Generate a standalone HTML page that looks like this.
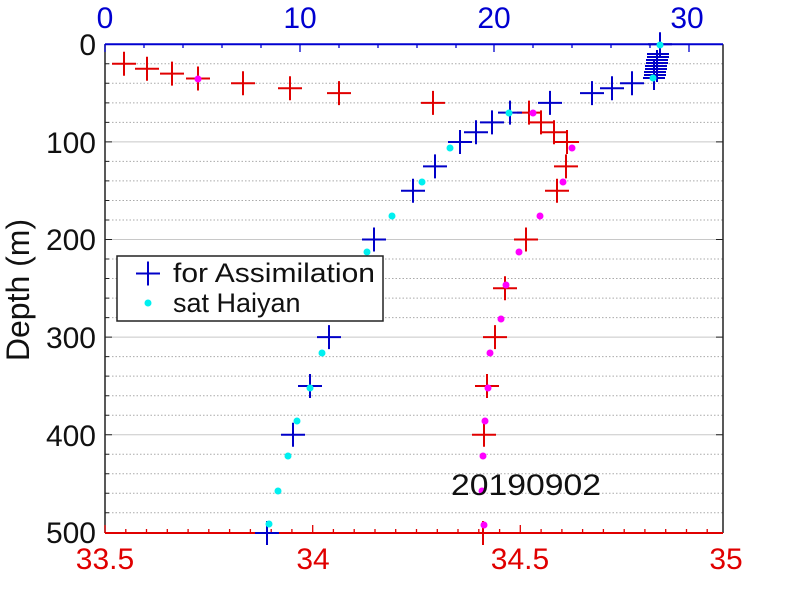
<!DOCTYPE html>
<html><head><meta charset="utf-8"><style>body{margin:0;background:#fff}svg{display:block}</style></head><body>
<svg width="800" height="600" xmlns="http://www.w3.org/2000/svg" font-family="Liberation Sans, Arial, sans-serif">
<rect width="800" height="600" fill="#fff"/>
<g stroke="#c8c8c8" stroke-width="1">
<line x1="105" x2="723" y1="141.9" y2="141.9"/><line x1="105" x2="723" y1="239.5" y2="239.5"/><line x1="105" x2="723" y1="337.1" y2="337.1"/><line x1="105" x2="723" y1="434.7" y2="434.7"/>
</g>
<g stroke="#aaa" stroke-width="1" stroke-dasharray="1.5,2">
<line x1="105" x2="723" y1="63.8" y2="63.8"/><line x1="105" x2="723" y1="83.3" y2="83.3"/><line x1="105" x2="723" y1="102.9" y2="102.9"/><line x1="105" x2="723" y1="122.4" y2="122.4"/>
<line x1="105" x2="723" y1="161.4" y2="161.4"/><line x1="105" x2="723" y1="180.9" y2="180.9"/><line x1="105" x2="723" y1="200.5" y2="200.5"/><line x1="105" x2="723" y1="220.0" y2="220.0"/>
<line x1="105" x2="723" y1="259.0" y2="259.0"/><line x1="105" x2="723" y1="278.5" y2="278.5"/><line x1="105" x2="723" y1="298.1" y2="298.1"/><line x1="105" x2="723" y1="317.6" y2="317.6"/>
<line x1="105" x2="723" y1="356.6" y2="356.6"/><line x1="105" x2="723" y1="376.1" y2="376.1"/><line x1="105" x2="723" y1="395.7" y2="395.7"/><line x1="105" x2="723" y1="415.2" y2="415.2"/>
<line x1="105" x2="723" y1="454.2" y2="454.2"/><line x1="105" x2="723" y1="473.7" y2="473.7"/><line x1="105" x2="723" y1="493.3" y2="493.3"/><line x1="105" x2="723" y1="512.8" y2="512.8"/>
</g>
<g stroke="#222" stroke-width="1">
<path d="M105,63.8h4M105,83.3h4M105,102.9h4M105,122.4h4M105,141.9h7M105,161.4h4M105,180.9h4M105,200.5h4M105,220h4M105,239.5h7M105,259h4M105,278.5h4M105,298.1h4M105,317.6h4M105,337.1h7M105,356.6h4M105,376.1h4M105,395.7h4M105,415.2h4M105,434.7h7M105,454.2h4M105,473.7h4M105,493.3h4M105,512.8h4"/>
<path d="M723,141.9h-7M723,239.5h-7M723,337.1h-7M723,434.7h-7"/>
</g>
<line x1="105" y1="44.3" x2="105" y2="533" stroke="#222" stroke-width="1.5"/>
<line x1="723" y1="44.3" x2="723" y2="533" stroke="#222" stroke-width="1.5"/>
<line x1="105" y1="44.3" x2="723" y2="44.3" stroke="#0000d0" stroke-width="2"/>
<g stroke="#0000d0" stroke-width="1.3">
<path d="M105,44v8M300,44v8M494,44v8M689,44v8"/>
<path d="M144,44v4M183,44v4M222,44v4M261,44v4M339,44v4M378,44v4M417,44v4M456,44v4M533,44v4M572,44v4M611,44v4M650,44v4"/>
</g>
<g fill="#0000d0" font-size="30" text-anchor="middle">
<text x="105" y="28">0</text><text x="300" y="28">10</text><text x="494" y="28">20</text><text x="687" y="28">30</text>
</g>
<line x1="105" y1="533" x2="723" y2="533" stroke="#e00000" stroke-width="2"/>
<g stroke="#e00000" stroke-width="1.3">
<path d="M105,533v-8M312.7,533v-8M520.3,533v-8"/>
<path d="M125.8,533v-4M146.5,533v-4M167.3,533v-4M188.1,533v-4M208.8,533v-4M229.6,533v-4M250.4,533v-4M271.2,533v-4M291.9,533v-4M333.4,533v-4M354.2,533v-4M375,533v-4M395.7,533v-4M416.5,533v-4M437.3,533v-4M458,533v-4M478.8,533v-4M499.6,533v-4M541.1,533v-4M561.9,533v-4M582.6,533v-4M603.4,533v-4M624.2,533v-4M644.9,533v-4M665.7,533v-4M686.5,533v-4M707.2,533v-4"/>
</g>
<g fill="#e00000" font-size="30" text-anchor="middle">
<text x="105" y="569">33.5</text><text x="313" y="569">34</text><text x="520" y="569">34.5</text><text x="726" y="569">35</text>
</g>
<g fill="#111" font-size="30" text-anchor="end">
<text x="96" y="55">0</text><text x="96" y="153">100</text><text x="96" y="250">200</text><text x="96" y="348">300</text><text x="96" y="446">400</text><text x="96" y="543">500</text>
</g>
<text transform="translate(29,290) rotate(-90)" font-size="32" fill="#111" text-anchor="middle">Depth (m)</text>
<g stroke="#e00000" stroke-width="2">
<path d="M112,63.8h24M124,51.8v24 M135,68.7h24M147,56.7v24 M160,73.6h24M172,61.6v24 M186,78.5h24M198,66.5v24 M231,83.3h24M243,71.3v24 M278,88.2h24M290,76.2v24 M327,93.1h24M339,81.1v24 M421,102.9h24M433,90.9v24 M517,112.6h24M529,100.6v24 M529,122.4h24M541,110.4v24 M542,132.2h24M554,120.2v24 M555,142h24M567,130v24 M554,166.4h24M566,154.4v24 M545,190.8h24M557,178.8v24 M514,239.5h24M526,227.5v24 M493,288.3h24M505,276.3v24 M483,337.1h24M495,325.1v24 M475,386h24M487,374v24 M472,434.7h24M484,422.7v24 M471,533h24M483,521v24"/>
</g>
<g fill="#ff00ff">
<circle cx="198" cy="79" r="3.5"/><circle cx="533" cy="113" r="3.5"/><circle cx="572" cy="148" r="3.5"/><circle cx="563" cy="182" r="3.5"/><circle cx="540" cy="216" r="3.5"/><circle cx="519" cy="252" r="3.5"/><circle cx="506" cy="285" r="3.5"/><circle cx="501" cy="319" r="3.5"/><circle cx="490" cy="353" r="3.5"/><circle cx="488" cy="388" r="3.5"/><circle cx="485" cy="421" r="3.5"/><circle cx="483" cy="456" r="3.5"/><circle cx="482" cy="491" r="3.5"/><circle cx="484" cy="525" r="3.5"/>
</g>
<g stroke="#0000c8" stroke-width="2">
<path d="M648,44.3h24M660,32.3v24 M647,54h22 M647,57h22 M646,60h22 M646,63h22 M645,66h22 M645,69h22 M644,72h22 M644,75h22 M643,78h22M657,50v32M654,60v30"/>
<path d="M620,83.3h24M632,71.3v24 M600,88.2h24M612,76.2v24 M580,93.1h24M592,81.1v24 M538,102.9h24M550,90.9v24 M498,112.6h24M510,100.6v24 M480,122.4h24M492,110.4v24 M464,132.2h24M476,120.2v24 M448,142h24M460,130v24 M423,166.4h24M435,154.4v24 M401,190.8h24M413,178.8v24 M362,239.5h24M374,227.5v24 M317,337.1h24M329,325.1v24 M298,386h24M310,374v24 M281,434.7h24M293,422.7v24 M255,533h24M267,521v24"/>
</g>
<g fill="#00f0f0">
<circle cx="660" cy="45" r="3.5"/><circle cx="653" cy="78" r="3.5"/><circle cx="509" cy="113" r="3.5"/><circle cx="450" cy="148" r="3.5"/><circle cx="422" cy="182" r="3.5"/><circle cx="392" cy="216" r="3.5"/><circle cx="367" cy="252" r="3.5"/><circle cx="322" cy="353" r="3.5"/><circle cx="310" cy="388" r="3.5"/><circle cx="297" cy="421" r="3.5"/><circle cx="288" cy="456" r="3.5"/><circle cx="278" cy="491" r="3.5"/><circle cx="269" cy="524" r="3.5"/>
</g>
<rect x="117" y="256" width="266" height="65" fill="#fff" stroke="#222" stroke-width="1.5"/>
<path d="M136,273.5h24M148,261.5v24" stroke="#0000c8" stroke-width="2"/>
<circle cx="148" cy="303" r="3.5" fill="#00f0f0"/>
<g font-size="27" fill="#111">
<text x="173" y="282" textLength="202" lengthAdjust="spacingAndGlyphs">for Assimilation</text>
<text x="173" y="312">sat Haiyan</text>
</g>
<text x="451" y="495" font-size="30" fill="#111" textLength="150" lengthAdjust="spacingAndGlyphs">20190902</text>
</svg>
</body></html>
